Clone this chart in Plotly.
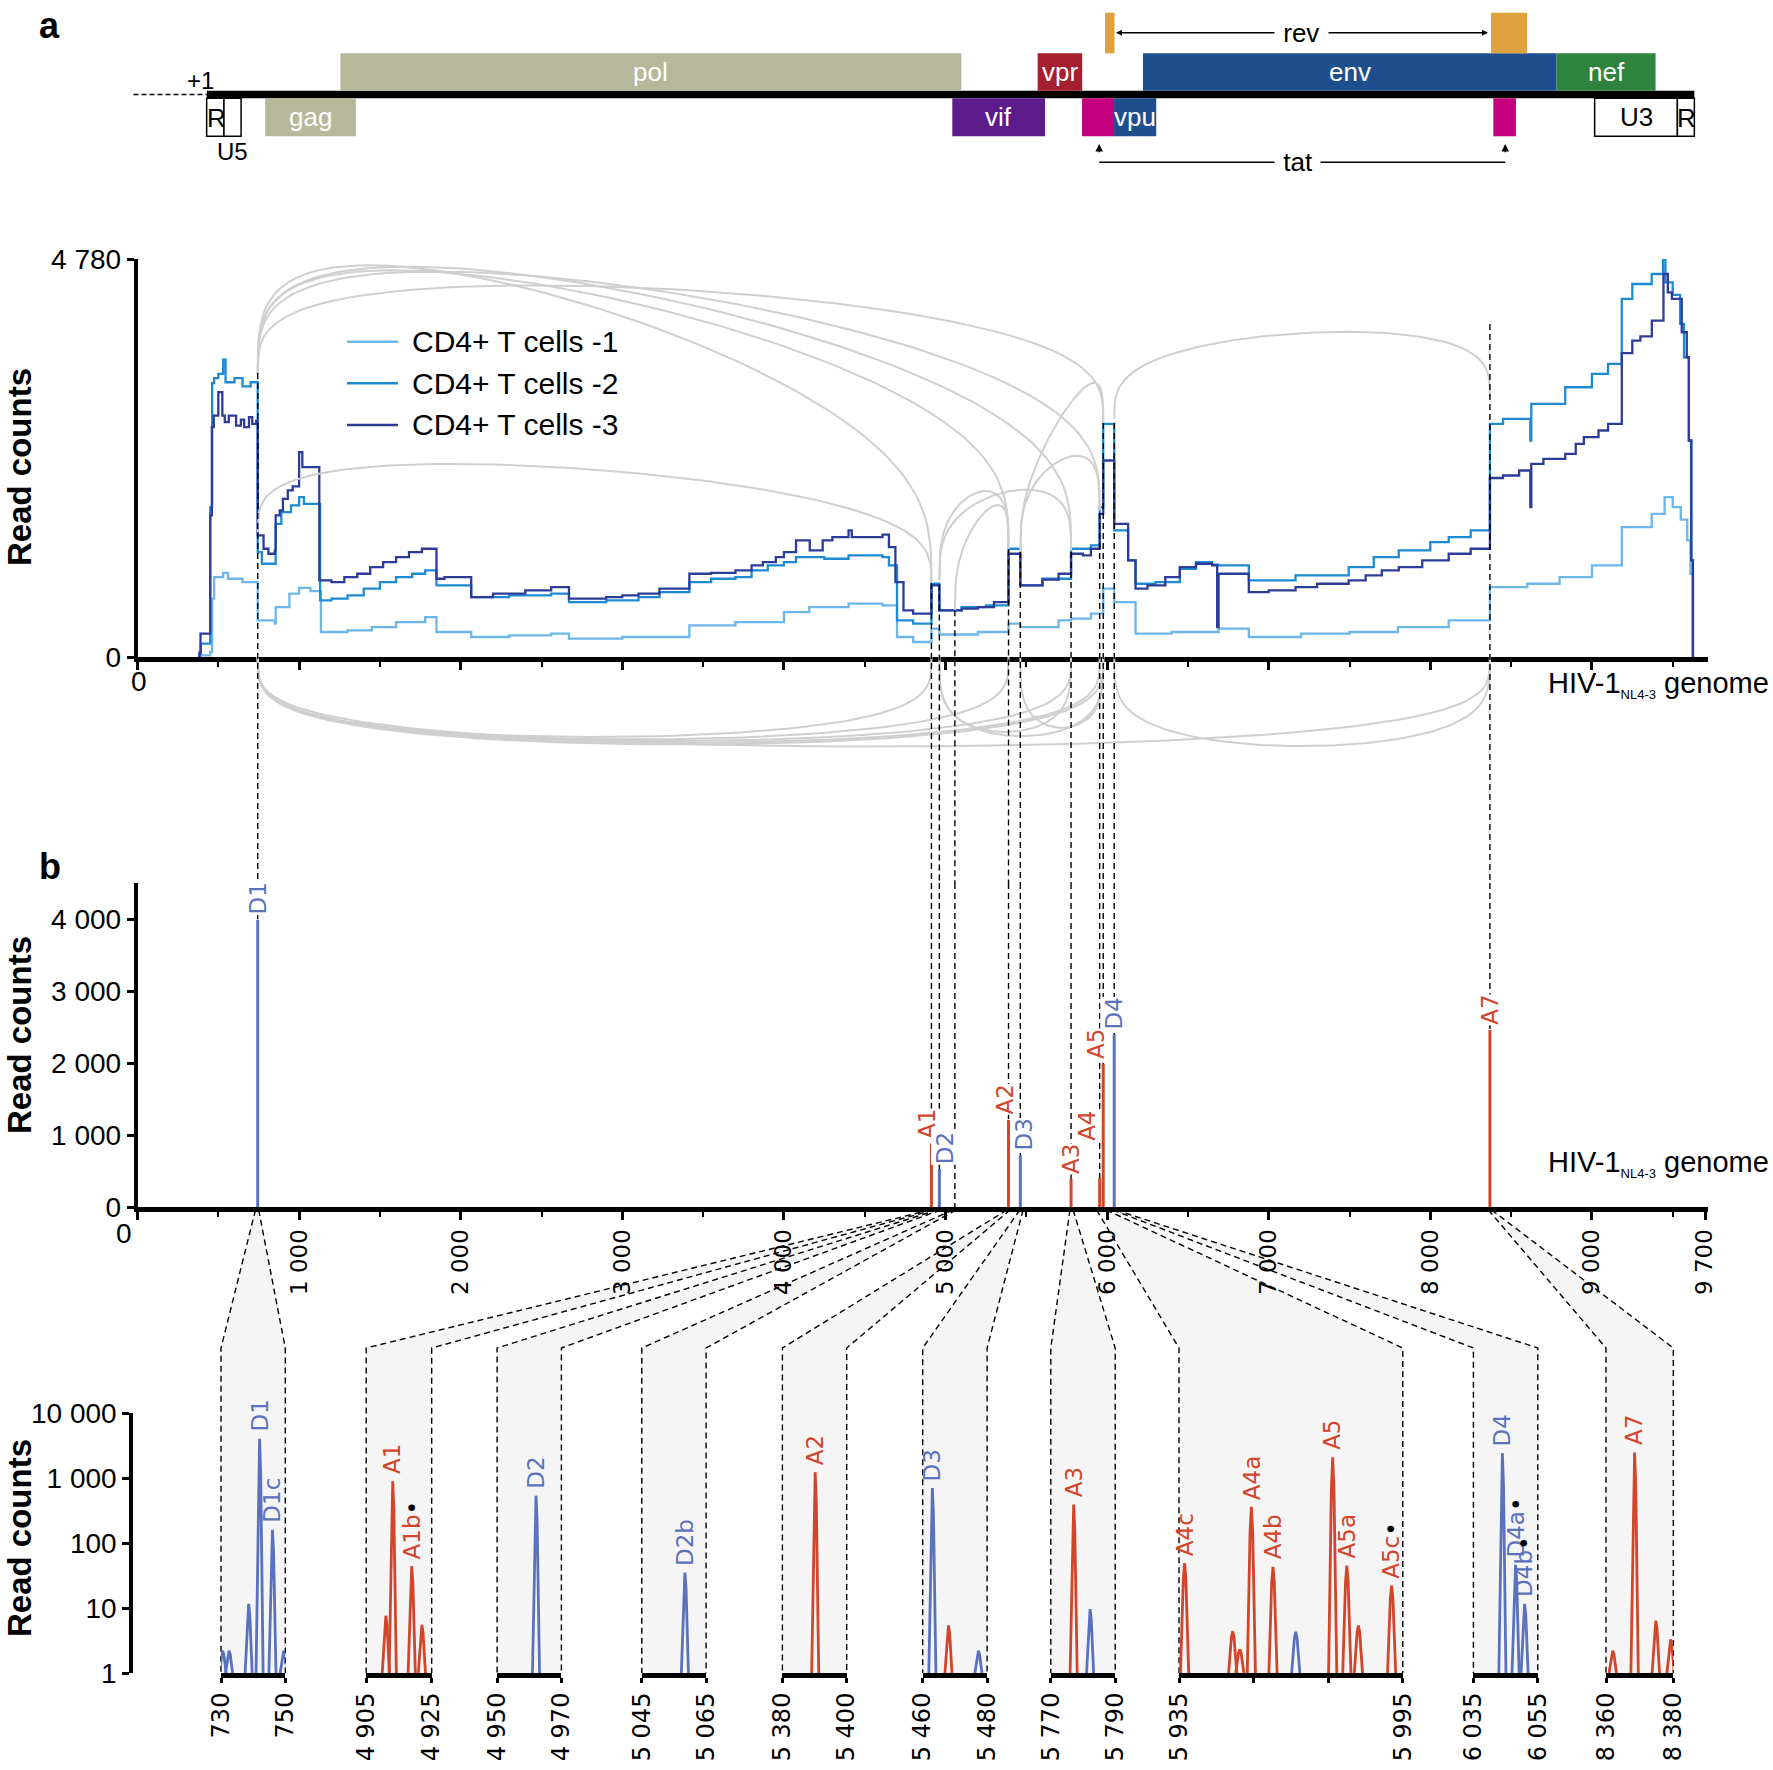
import numpy as np
import plotly.graph_objects as go

# ======================= DATA =======================
# Panel a: read coverage (step profiles) for three replicates
cov1_x = [380, 390, 450, 462, 474, 530, 560, 650, 744, 850, 855, 940, 1000, 1070, 1135,
          1300, 1450, 1600, 1780, 1850, 2065, 2300, 2560, 2670, 3000, 3415, 3700, 4000, 4157, 4400, 4610, 4700, 4800,
          4913, 4962, 5200, 5390, 5463, 5700, 5777, 5900, 5976, 6044, 6176, 6400, 6690, 6877, 7200, 7500, 7800, 8114,
          8369, 8600, 8800, 9000, 9185, 9370, 9450, 9500, 9550, 9590, 9610, 9625]
cov1_y = [0, 20, 60, 700, 960, 1010, 940, 900, 440, 400, 600, 760, 830, 790, 300,
          320, 360, 420, 480, 300, 240, 260, 280, 220, 240, 380, 420, 540, 600, 640, 620, 240, 180,
          340, 270, 300, 400, 360, 440, 460, 520, 820, 660, 280, 300, 340, 240, 280, 300, 360, 440,
          840, 880, 960, 1100, 1560, 1720, 1920, 1800, 1650, 1400, 1000, 0]

cov2_x = [380, 385, 392, 450, 462, 474, 500, 530, 545, 600, 650, 700,
          744, 770, 850, 855, 890, 950, 1000, 1030, 1130,
          1200, 1300, 1400, 1500, 1600, 1700, 1780, 1850, 2065,
          2300, 2560, 2670, 2900, 3100, 3230, 3415,
          3550, 3700, 3800, 3900, 4000, 4075, 4250, 4400, 4610, 4650, 4700, 4800,
          4913, 4962, 5100, 5250, 5390, 5463, 5600, 5777, 5900, 5954, 5976, 6044, 6130, 6176,
          6300, 6450, 6550, 6650, 6690, 6877, 7166, 7495, 7650, 7805, 8000, 8114, 8250,
          8369, 8450, 8619, 8625, 8835, 9000, 9100, 9185, 9250, 9370, 9440, 9455, 9500, 9546, 9570, 9600, 9615, 9625]
cov2_y = [0, 60, 160, 1800, 3290, 3350, 3400, 3570, 3300, 3350, 3250, 3300,
          1260, 1120, 1120, 1600, 1740, 1820, 1920, 1840, 680,
          700, 740, 820, 900, 960, 1000, 1040, 860, 720,
          740, 760, 660, 680, 720, 780, 900,
          940, 960, 1040, 1100, 1140, 1200, 1180, 1220, 1200, 1100, 440, 400,
          880, 560, 600, 620, 1300, 860, 940, 1300, 1340, 1800, 2800, 1520, 1160, 880,
          900, 1060, 1140, 1110, 1100, 920, 980, 1080, 1200, 1280, 1380, 1440, 1520,
          2800, 2860, 2600, 3040, 3240, 3400, 3520, 4300, 4480, 4600, 4780, 4500, 4350, 4000, 3600, 2600, 1160, 0]

cov3_x = [375, 383, 390, 450, 460, 472, 500, 525, 540, 565, 610, 640, 660, 690, 710, 735,
          744, 780, 810, 850, 855, 880, 900, 930, 960, 1000, 1020, 1125,
          1200, 1280, 1360, 1440, 1520, 1600, 1680, 1760, 1850, 1900, 2065,
          2200, 2400, 2560, 2670, 2800, 2900, 3000, 3100, 3230, 3415,
          3550, 3700, 3800, 3870, 3950, 4000, 4075, 4160, 4240, 4300, 4400, 4420, 4610, 4650, 4690, 4740, 4800,
          4913, 4962, 5100, 5200, 5300, 5390, 5463, 5600, 5700, 5777, 5850, 5900, 5954, 5976, 6044, 6130, 6176,
          6250, 6360, 6450, 6550, 6650, 6681, 6690, 6877, 7000, 7166, 7300, 7495, 7600, 7700, 7805, 7950, 8114, 8250,
          8369, 8450, 8550, 8619, 8625, 8700, 8835, 8900, 8950, 9041, 9100, 9185, 9250, 9300, 9371, 9443, 9470,
          9495, 9546, 9556, 9587, 9600, 9615, 9625]
cov3_y = [0, 40, 280, 1700, 2760, 2900, 3180, 2900, 2820, 2900, 2780, 2850, 2760, 2880, 2800, 2840,
          1460, 1300, 1240, 1280, 1700, 1760, 1900, 2000, 2050, 2460, 2280, 920,
          900, 960, 1000, 1080, 1140, 1200, 1260, 1300, 940, 960, 720,
          760, 800, 840, 700, 700, 720, 740, 760, 820, 1000,
          1010, 1040, 1100, 1140, 1200, 1260, 1400, 1280, 1400, 1440, 1520, 1440, 1470, 1320, 900, 560, 520,
          860, 560, 580, 600, 660, 1240, 860, 930, 1000, 1240, 1220, 1300, 1720, 2360, 1600, 1160, 820,
          860, 960, 1080, 1120, 1100, 360, 1000, 780, 800, 840, 880, 920, 980, 1040, 1080, 1160, 1240, 1300,
          2150, 2180, 2240, 1800, 2320, 2380, 2440, 2560, 2640, 2720, 2800, 3650, 3800, 3850, 4040, 4600, 4380,
          4300, 4300, 3900, 3600, 2600, 1160, 0]
series_names = ["CD4+ T cells -1", "CD4+ T cells -2", "CD4+ T cells -3"]

# splice junction arcs (above the axis)
up_donor = [744, 744, 744, 744, 744, 744, 4962, 5058, 4962, 5463, 5463, 6044]
up_acc = [5976, 5954, 5777, 5390, 4913, 4913, 5390, 5390, 5777, 5954, 5976, 8369]
up_start = [3400, 3400, 3400, 3400, 3400, 1500, 920, 560, 920, 1260, 1260, 2860]
up_end = [2810, 1760, 1300, 1300, 890, 890, 1300, 1300, 1280, 1760, 2810, 3120]
up_peak = [4410, 4360, 4300, 4250, 4200, 2250, 1960, 1700, 1980, 2360, 2900, 3890]
# splice junction arcs (below the axis)
low_donor = [744, 744, 744, 744, 744, 744, 4962, 4962, 5463, 6044]
low_acc = [4913, 5390, 5777, 5954, 5976, 8369, 5777, 5976, 5976, 8369]
low_peak = [-960, -990, -1010, -1030, -1050, -1075, -900, -950, -850, -1070]

# splice sites linking panel a and b
site_pos = [744, 4913, 4962, 5058, 5390, 5463, 5777, 5954, 5976, 6044, 8369]
site_top = [3410, 890, 870, 560, 1290, 1260, 1260, 1730, 2810, 2810, 4000]

# Panel b (linear): splice-site usage
b_sites = [744, 4913, 4962, 5390, 5463, 5777, 5954, 5976, 6044, 8369]
b_counts = [3990, 880, 530, 1210, 720, 390, 400, 1990, 2400, 2460]
b_labels = ["D1", "A1", "D2", "A2", "D3", "A3", "A4", "A5", "D4", "A7"]

# Panel b (log zoom windows)
win_start = [730, 4905, 4950, 5045, 5380, 5460, 5770, 5935, 6035, 8360]
win_end = [750, 4925, 4970, 5065, 5400, 5480, 5790, 5995, 6055, 8380]
pk_win = [0, 0, 0, 0, 0, 0, 1, 1, 1, 1, 2, 3, 4, 5, 5, 5, 6, 6,
          7, 7, 7, 7, 7, 7, 7, 7, 7, 7, 8, 8, 8, 9, 9, 9, 9]
pk_pos = [730.5, 732.5, 738.6, 742, 746, 749.5, 4911, 4913.1, 4918.9, 4922, 4962.1, 5058.4, 5390.2,
          5463, 5468, 5477.3, 5777.1, 5782.2,
          5936.5, 5949.4, 5951.3, 5954.4, 5960.2, 5966.3, 5976.2, 5980, 5983.1, 5992,
          6044, 6048.1, 6050.9, 8362, 8368.5, 8374.8, 8379.2]
pk_count = [2.2, 2.2, 11.6, 4000, 160, 2.2, 7.6, 890, 44, 5.5, 535, 35, 1230,
            700, 5.4, 2.2, 390, 9.6,
            49, 4.4, 2.3, 360, 43, 4.3, 2090, 45, 5.4, 22,
            2420, 46, 11.6, 2.2, 2470, 6.4, 3.3]
pk_kind = ["D", "D", "D", "D", "D", "D", "A", "A", "A", "A", "D", "D", "A",
           "D", "A", "D", "A", "D",
           "A", "A", "A", "A", "A", "D", "A", "A", "A", "A",
           "D", "D", "D", "A", "A", "A", "A"]
pk_label = ["", "", "", "D1", "D1c", "", "", "A1", "A1b*", "", "D2", "D2b", "A2",
            "D3", "", "", "A3", "",
            "A4c", "", "", "A4a", "A4b", "", "A5", "A5a", "", "A5c*",
            "D4", "D4a*", "D4b*", "", "A7", "", ""]

# Genome map
gene_names = ["pol", "vpr", "env", "nef", "gag", "vif", "tat", "vpu", "tat", "rev", "rev"]
gene_start = [1256, 5570, 6222, 8781, 790, 5042, 5845, 6043, 8390, 5987, 8376]
gene_end = [5098, 5846, 8781, 9394, 1351, 5616, 6043, 6304, 8530, 6046, 8599]
gene_row = ["up", "up", "up", "up", "low", "low", "low", "low", "low", "top", "top"]
gene_text = [True, True, True, True, True, True, False, True, False, False, False]
ltr_names = ["R", "U5", "U3", "R"]
ltr_start = [428, 535, 9017, 9529]
ltr_end = [535, 641, 9529, 9634]
genome_span = [429, 9634]

# ======================= STYLE / LAYOUT CONSTANTS =======================
W, H = 1773, 1770
def PX(p): return p / W
def PY(p): return 1 - p / H

G0_PX, G1_PX = 137.5, 1708.3
G_SCALE = 0.1616
G_MAX = (G1_PX - G0_PX) / G_SCALE
def gpx(g): return G0_PX + g * G_SCALE

A_TOP, A_BOT, ARC_BOT = 259, 657, 883
B_TOP, B_BOT = 883, 1207
L_TOP, L_BOT = 1413, 1673
FUN_TOP, BAND_TOP = 1210, 1348
A_MAX, B_MAX = 4780, 4500
A_PER_PX = A_MAX / (A_BOT - A_TOP)
ARC_MIN = -(ARC_BOT - A_BOT) * A_PER_PX
sub_px0 = [221, 366.2, 497.1, 641.8, 782.4, 922.7, 1050.8, 1179, 1473.4, 1606]
sub_px1 = [285.3, 431.7, 561.4, 706.1, 846.7, 987.1, 1115.2, 1402.8, 1537.8, 1673.3]

C_COV = ["#6db6ea", "#1d8bd3", "#2c3c98"]
BLUE, RED = "#5a72be", "#d2452a"
ARC_C = "#cfcfcf"
NARROW = "Liberation Sans Narrow, Arial Narrow, Liberation Sans, Arial, sans-serif"
ARIAL = "Liberation Sans, Arial, sans-serif"
DV = "DejaVu Sans, Verdana, sans-serif"
ROWS = {"top": (12.7, 53.3), "up": (53.3, 90.7), "low": (98.3, 136.3)}
GENE_COLORS = {"pol": "#b7b799", "gag": "#b7b799", "vpr": "#a51f2f", "env": "#1f4e8f", "vpu": "#1f4e8f",
               "nef": "#2e843f", "vif": "#5e1b8c", "tat": "#c4007f", "rev": "#dea13d"}
DASH = "6px,4px"

def fmt(v):
    return f"{int(v):,}".replace(",", " ")

fig = go.Figure()
shapes, annotations = [], []

def paper_text(px, py, text, font, xanchor="center", yanchor="middle", **kw):
    d = dict(x=PX(px), y=PY(py), xref="paper", yref="paper", text=text, showarrow=False,
             xanchor=xanchor, yanchor=yanchor, font=font)
    d.update(kw)
    annotations.append(d)

# ---------------- canvas: funnels between panel b and zoom windows ----------------
for i in range(len(win_start)):
    a0, a1 = gpx(win_start[i]), gpx(win_end[i])
    s0, s1 = sub_px0[i], sub_px1[i]
    fig.add_trace(go.Scatter(x=[a0, a1, s1, s1, s0, s0, a0], y=[FUN_TOP, FUN_TOP, BAND_TOP, L_BOT, L_BOT, BAND_TOP, FUN_TOP],
                             mode="lines", fill="toself", fillcolor="rgba(0,0,0,0.04)", line=dict(width=0),
                             xaxis="x", yaxis="y", hoverinfo="skip"))
    fig.add_trace(go.Scatter(x=[a0, s0, s0, None, a1, s1, s1], y=[FUN_TOP, BAND_TOP, L_BOT, None, FUN_TOP, BAND_TOP, L_BOT],
                             mode="lines", line=dict(color="black", width=1.4, dash=DASH),
                             xaxis="x", yaxis="y", hoverinfo="skip"))

# manual legend
for i, nm in enumerate(series_names):
    yy = 341.7 + i * 41.6
    fig.add_trace(go.Scatter(x=[347, 398], y=[yy, yy], mode="lines", line=dict(color=C_COV[i], width=2.5),
                             xaxis="x", yaxis="y", hoverinfo="skip"))
    paper_text(410, yy, nm, dict(family=NARROW, size=30, color="black"), xanchor="left")

# ---------------- gene map ----------------
shapes.append(dict(type="line", xref="x2", yref="y2", x0=-25, x1=genome_span[0], y0=94.5, y1=94.5,
                   line=dict(color="black", width=1.5, dash="5px,3px")))
shapes.append(dict(type="rect", xref="x2", yref="y2", x0=genome_span[0], x1=genome_span[1], y0=90.7, y1=98.3,
                   fillcolor="black", line=dict(width=0)))
for nm, s, e, r, t in zip(gene_names, gene_start, gene_end, gene_row, gene_text):
    y0, y1 = ROWS[r]
    shapes.append(dict(type="rect", xref="x2", yref="y2", x0=s, x1=e, y0=y0, y1=y1,
                       fillcolor=GENE_COLORS[nm], line=dict(width=0)))
    if t:
        annotations.append(dict(x=(s + e) / 2, y=(y0 + y1) / 2, xref="x2", yref="y2", text=nm, showarrow=False,
                                xanchor="center", yanchor="middle",
                                font=dict(family=NARROW, size=26, color="white")))
for nm, s, e in zip(ltr_names, ltr_start, ltr_end):
    shapes.append(dict(type="rect", xref="x2", yref="y2", x0=s, x1=e, y0=98.3, y1=136.3,
                       fillcolor="white", line=dict(color="black", width=1.5)))
    if nm == "R":
        annotations.append(dict(x=s, y=101, xref="x2", yref="y2", text=nm, showarrow=False, xanchor="left",
                                yanchor="top", xshift=-2, font=dict(family=NARROW, size=26, color="black")))
    elif nm == "U3":
        annotations.append(dict(x=(s + e) / 2, y=117.3, xref="x2", yref="y2", text=nm, showarrow=False,
                                xanchor="center", yanchor="middle", font=dict(family=NARROW, size=26, color="black")))
    else:
        annotations.append(dict(x=(s + e) / 2, y=151, xref="x2", yref="y2", text=nm, showarrow=False,
                                xanchor="center", yanchor="middle", font=dict(family=NARROW, size=24, color="black")))
annotations.append(dict(x=387, y=80, xref="x2", yref="y2", text="+1", showarrow=False, xanchor="center",
                        yanchor="middle", font=dict(family=NARROW, size=24, color="black")))
# rev arrow
rev_l, rev_r = 6055, 8357
for tip in (rev_l, rev_r):
    annotations.append(dict(x=tip, y=32.7, ax=(rev_l + rev_r) / 2, ay=32.7, xref="x2", yref="y2", axref="x2", ayref="y2",
                            text=" ", showarrow=True, arrowhead=2, arrowsize=0.8, arrowwidth=1.5, arrowcolor="black"))
annotations.append(dict(x=(rev_l + rev_r) / 2, y=32.7, xref="x2", yref="y2", text=" rev ", showarrow=False,
                        xanchor="center", yanchor="middle", bgcolor="white",
                        font=dict(family=NARROW, size=26, color="black")))
# tat bracket
tat_l, tat_r = 5951, 8464
shapes.append(dict(type="line", xref="x2", yref="y2", x0=tat_l, x1=tat_r, y0=162.3, y1=162.3,
                   line=dict(color="black", width=1.5)))
for tip in (tat_l, tat_r):
    annotations.append(dict(x=tip, y=144, ax=tip, ay=162.3, xref="x2", yref="y2", axref="x2", ayref="y2",
                            text=" ", showarrow=True, arrowhead=2, arrowsize=1, arrowwidth=1.5, arrowcolor="black"))
annotations.append(dict(x=(tat_l + tat_r) / 2 - 30, y=162.3, xref="x2", yref="y2", text=" tat ", showarrow=False,
                        xanchor="center", yanchor="middle", bgcolor="white",
                        font=dict(family=NARROW, size=26, color="black")))

# ---------------- panel a: arcs, coverage, dashed site lines ----------------
t = np.linspace(0, np.pi, 80)
ax_, ay_ = [], []
for d, a, ys, ye, pk in zip(up_donor, up_acc, up_start, up_end, up_peak):
    hgt = pk - (ys + ye) / 2
    ax_ += list(d + (a - d) * (1 - np.cos(t)) / 2) + [None]
    ay_ += list(ys + (ye - ys) * (1 - np.cos(t)) / 2 + hgt * np.sin(t) ** 0.6) + [None]
for d, a, pk in zip(low_donor, low_acc, low_peak):
    ax_ += list(d + (a - d) * (1 - np.cos(t)) / 2) + [None]
    ay_ += list(pk * np.sin(t) ** 0.55) + [None]
fig.add_trace(go.Scatter(x=ax_, y=ay_, mode="lines", line=dict(color=ARC_C, width=2),
                         xaxis="x3", yaxis="y4", hoverinfo="skip"))

for xs, ys, c in zip([cov1_x, cov2_x, cov3_x], [cov1_y, cov2_y, cov3_y], C_COV):
    fig.add_trace(go.Scatter(x=xs, y=ys, mode="lines", line=dict(color=c, width=2.3, shape="hv"),
                             xaxis="x3", yaxis="y3", hoverinfo="skip"))

dx, dy = [], []
for s, tp in zip(site_pos, site_top):
    dx += [s, s, None]
    dy += [tp, ARC_MIN, None]
fig.add_trace(go.Scatter(x=dx, y=dy, mode="lines", line=dict(color="black", width=1.4, dash=DASH),
                         xaxis="x3", yaxis="y4", hoverinfo="skip"))

# ---------------- panel b (linear) ----------------
dx, dy = [], []
for s in site_pos:
    dx += [s, s, None]
    dy += [B_MAX, 0, None]
fig.add_trace(go.Scatter(x=dx, y=dy, mode="lines", line=dict(color="black", width=1.4, dash=DASH),
                         xaxis="x5", yaxis="y5", hoverinfo="skip"))
label_shift = {"A1": (-5, 4), "D2": (5, 4), "A2": (-4, 4), "D3": (4, 4), "A4": (-12, 36), "A5": (-8, 4)}
for s, c, lb in zip(b_sites, b_counts, b_labels):
    col = BLUE if lb.startswith("D") else RED
    fig.add_trace(go.Scatter(x=[s, s], y=[0, c], mode="lines", line=dict(color=col, width=3),
                             xaxis="x5", yaxis="y5", hoverinfo="skip"))
    xs_, ys_ = label_shift.get(lb, (0, 4))
    annotations.append(dict(x=s, y=c, xref="x5", yref="y5", text=lb, showarrow=False, textangle=-90,
                            xanchor="center", yanchor="bottom", xshift=xs_, yshift=ys_, bgcolor="white",
                            borderpad=0, font=dict(family=DV, size=23, color=col)))

# ---------------- panel b (log zoom windows) ----------------
offs = np.array([-1.1, -0.7, -0.35, 0, 0.35, 0.7, 1.1])
frac = np.array([0, 0.45, 0.85, 1, 0.85, 0.45, 0])
for i in range(len(win_start)):
    xa = "x%d" % (6 + i)
    for kind, col in (("D", BLUE), ("A", RED)):
        px_, py_ = [], []
        for w, p, c, k in zip(pk_win, pk_pos, pk_count, pk_kind):
            if w == i and k == kind:
                px_ += list(p + offs) + [None]
                py_ += list(c ** frac) + [None]
        if px_:
            fig.add_trace(go.Scatter(x=px_, y=py_, mode="lines", line=dict(color=col, width=2.8),
                                     xaxis=xa, yaxis="y6", hoverinfo="skip", cliponaxis=False))
for w, p, c, k, lb in zip(pk_win, pk_pos, pk_count, pk_kind, pk_label):
    if not lb:
        continue
    col = BLUE if k == "D" else RED
    txt = lb.replace("*", "<span style='color:black'>•</span>")
    annotations.append(dict(x=p, y=np.log10(c), xref="x%d" % (6 + w), yref="y6", text=txt, showarrow=False,
                            textangle=-90, xanchor="center", yanchor="bottom", yshift=5,
                            font=dict(family=DV, size=23, color=col)))

# ---------------- texts ----------------
paper_text(49, 26, "<b>a</b>", dict(family=ARIAL, size=36, color="black"))
paper_text(50, 866, "<b>b</b>", dict(family=ARIAL, size=36, color="black"))
paper_text(139, 681, "0", dict(family=NARROW, size=28, color="black"))
paper_text(124, 1233, "0", dict(family=NARROW, size=28, color="black"))
for yc in (467, 1035, 1538):
    paper_text(19, yc, "<b>Read counts</b>", dict(family=ARIAL, size=33, color="black"), textangle=-90)
for yc in (685, 1163):
    paper_text(1771, yc, "HIV-1<sub><span style='font-size:13px'>NL4-3</span></sub> genome",
               dict(family=NARROW, size=29, color="black"), xanchor="right")

# ---------------- axes ----------------
tickfont_n = dict(family=NARROW, size=28, color="black")
common_x = dict(domain=[PX(G0_PX), PX(G1_PX)], range=[0, G_MAX], showline=True, linewidth=5, linecolor="black",
                ticks="outside", ticklen=8, tickwidth=2.5, tickcolor="black", showgrid=False, zeroline=False,
                automargin=False,
                minor=dict(tickmode="linear", tick0=0, dtick=500, ticks="outside", ticklen=5, tickwidth=2,
                           tickcolor="black"))
layout = dict(
    width=W, height=H, margin=dict(l=0, r=0, t=0, b=0, pad=0, autoexpand=False),
    paper_bgcolor="white", plot_bgcolor="rgba(0,0,0,0)",
    showlegend=False,
    xaxis=dict(domain=[0, 1], range=[0, W], visible=False, fixedrange=True, automargin=False),
    yaxis=dict(domain=[0, 1], range=[H, 0], visible=False, fixedrange=True, automargin=False),
    xaxis2=dict(domain=[0, 1], range=[-G0_PX / G_SCALE, (W - G0_PX) / G_SCALE], visible=False, anchor="y2",
                automargin=False),
    yaxis2=dict(domain=[PY(180), 1], range=[180, 0], visible=False, anchor="x2", automargin=False),
    xaxis3=dict(common_x, anchor="y3", tickvals=list(range(0, 10000, 1000)), ticktext=[""] * 10,
                tickfont=tickfont_n),
    yaxis3=dict(domain=[PY(A_BOT), PY(A_TOP)], range=[0, A_MAX], anchor="x3", showline=True, linewidth=3.5,
                linecolor="black", ticks="outside", ticklen=7, tickwidth=2.5, tickcolor="black",
                tickvals=[0, A_MAX], ticktext=["0", fmt(A_MAX)], tickfont=tickfont_n, showgrid=False,
                zeroline=False, automargin=False),
    yaxis4=dict(domain=[PY(ARC_BOT), PY(A_TOP)], range=[ARC_MIN, A_MAX], anchor="x3", visible=False,
                automargin=False),
    xaxis5=dict(common_x, anchor="y5", tickvals=list(range(0, 10000, 1000)) + [9700],
                ticktext=[""] + [fmt(v) for v in range(1000, 10000, 1000)] + ["9 700"], tickangle=-90,
                tickfont=dict(family=DV, size=23, color="black")),
    yaxis5=dict(domain=[PY(B_BOT), PY(B_TOP)], range=[0, B_MAX], anchor="x5", showline=True, linewidth=3.5,
                linecolor="black", ticks="outside", ticklen=7, tickwidth=2.5, tickcolor="black",
                tickvals=list(range(0, 5000, 1000)), ticktext=[fmt(v) for v in range(0, 5000, 1000)],
                tickfont=tickfont_n, showgrid=False, zeroline=False, automargin=False),
    yaxis6=dict(domain=[PY(L_BOT), PY(L_TOP)], type="log", range=[0, 4], anchor="free", position=PX(131),
                showline=True, linewidth=3.5, linecolor="black", ticks="outside", ticklen=7, tickwidth=2.5,
                tickcolor="black", tickvals=[1, 10, 100, 1000, 10000],
                ticktext=["1", "10", "100", "1 000", "10 000"], tickfont=tickfont_n, showgrid=False,
                zeroline=False, automargin=False),
    shapes=shapes, annotations=annotations,
)
for i in range(len(win_start)):
    tv = list(range(win_start[i], win_end[i] + 1, 20))
    tt = [fmt(v) if v in (win_start[i], win_end[i]) else "" for v in tv]
    layout["xaxis%d" % (6 + i)] = dict(domain=[PX(sub_px0[i]), PX(sub_px1[i])], range=[win_start[i], win_end[i]],
                                        anchor="y6", showline=True, linewidth=5, linecolor="black", ticks="outside",
                                        ticklen=5, tickwidth=2.5, tickcolor="black", tickvals=tv, ticktext=tt,
                                        tickangle=-90, tickfont=dict(family=DV, size=24, color="black"),
                                        showgrid=False, zeroline=False, automargin=False)
fig.update_layout(**layout)
fig.write_html("out.html", config={"displayModeBar": False},
               post_script="document.body.style.margin='0px';document.body.style.overflow='hidden';")
